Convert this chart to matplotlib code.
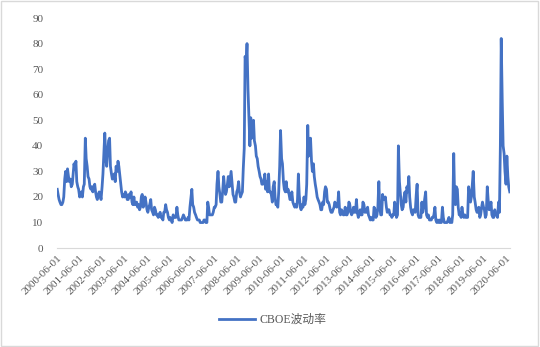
import matplotlib.pyplot as plt
import pandas as pd

# 数据准备(半月采样, 每月1日和15日)
start_date = '2000-06-01'
vix_2000 = [23, 21, 19, 18, 17, 17, 18, 20, 27, 30, 26, 31, 28, 26]
vix_2001 = [27, 24, 25, 29, 33, 31, 34, 26, 24, 23, 20, 21, 22, 20, 24, 25, 43, 35, 32, 28, 27, 24, 23, 24]
vix_2002 = [22, 24, 25, 22, 20, 19, 21, 22, 21, 19, 24, 29, 38, 45, 35, 32, 38, 42, 43, 32, 29, 27, 28, 29]
vix_2003 = [26, 32, 30, 34, 32, 29, 25, 22, 20, 21, 20, 22, 21, 19, 19, 21, 20, 22, 18, 17, 20, 17, 17, 18]
vix_2004 = [16, 17, 15, 16, 20, 21, 16, 18, 20, 18, 15, 14, 16, 17, 19, 15, 14, 13, 16, 15, 13, 13, 12, 13]
vix_2005 = [14, 12, 12, 11, 14, 14, 17, 15, 14, 12, 11, 12, 11, 10, 13, 12, 12, 12, 16, 13, 11, 11, 11, 11]
vix_2006 = [12, 13, 12, 11, 11, 11, 12, 11, 16, 19, 23, 17, 16, 14, 13, 12, 11, 11, 11, 10, 10, 10, 10, 11]
vix_2007 = [11, 10, 10, 18, 16, 13, 13, 13, 13, 14, 16, 16, 17, 25, 30, 24, 21, 18, 18, 22, 28, 24, 21, 22]
vix_2008 = [25, 28, 24, 27, 30, 26, 21, 20, 18, 18, 22, 23, 26, 22, 20, 21, 22, 31, 39, 75, 72, 80, 62, 52]
vix_2009 = [40, 51, 43, 46, 50, 42, 40, 36, 35, 32, 30, 28, 27, 25, 25, 26, 29, 23, 26, 22, 29, 22, 22, 21]
vix_2010 = [18, 24, 26, 20, 17, 17, 16, 22, 32, 46, 35, 33, 26, 23, 22, 26, 22, 23, 21, 19, 19, 22, 18, 17]
vix_2011 = [16, 17, 16, 19, 29, 21, 16, 15, 17, 16, 20, 17, 19, 25, 48, 36, 40, 43, 34, 30, 33, 28, 25, 23]
vix_2012 = [20, 19, 18, 17, 15, 15, 18, 17, 22, 24, 23, 18, 18, 17, 15, 14, 14, 15, 16, 18, 17, 16, 17, 22]
vix_2013 = [14, 13, 15, 14, 13, 13, 16, 13, 13, 14, 18, 17, 14, 13, 14, 16, 14, 14, 19, 14, 12, 13, 15, 13]
vix_2014 = [13, 18, 17, 14, 15, 14, 16, 13, 12, 11, 12, 11, 11, 16, 15, 12, 13, 16, 26, 16, 13, 13, 21, 19]
vix_2015 = [19, 20, 16, 14, 15, 15, 13, 13, 12, 13, 13, 18, 16, 12, 13, 40, 26, 22, 17, 15, 16, 20, 22, 18]
vix_2016 = [24, 22, 28, 20, 16, 14, 13, 15, 15, 14, 21, 25, 13, 12, 12, 12, 18, 14, 16, 19, 22, 13, 12, 13]
vix_2017 = [11, 11, 11, 12, 12, 13, 16, 11, 10, 11, 10, 11, 10, 10, 16, 12, 10, 10, 10, 10, 11, 12, 10, 11]
vix_2018 = [10, 13, 37, 20, 17, 24, 23, 16, 13, 14, 12, 16, 13, 12, 13, 12, 12, 12, 24, 22, 18, 20, 25, 30]
vix_2019 = [20, 18, 15, 14, 14, 16, 12, 13, 16, 18, 16, 15, 12, 13, 24, 19, 15, 16, 18, 13, 12, 12, 15, 13]
vix_2020 = [13, 12, 18, 14, 40, 82, 57, 40, 37, 30, 25, 36, 28, 24, 22]

vix = (vix_2000 + vix_2001 + vix_2002 + vix_2003 + vix_2004 + vix_2005 + vix_2006
       + vix_2007 + vix_2008 + vix_2009 + vix_2010 + vix_2011 + vix_2012 + vix_2013
       + vix_2014 + vix_2015 + vix_2016 + vix_2017 + vix_2018 + vix_2019 + vix_2020)
dates = pd.date_range(start_date, periods=len(vix), freq='SMS')

tick_dates = pd.date_range('2000-06-01', '2020-06-01', freq='12MS')
tick_labels = [d.strftime('%Y-%m-%d') for d in tick_dates]

# 字体
plt.rcParams['font.family'] = ['Liberation Serif', 'Noto Sans CJK SC']

fig = plt.figure(figsize=(5.4, 3.47), dpi=100)
ax = fig.add_axes([0.106, 0.285, 0.838, 0.663])

# 绘制折线图
ax.plot(dates, vix, color='#4472C4', linewidth=2.0, label='CBOE波动率')

ax.set_ylim(0, 90)
ax.set_yticks(range(0, 91, 10))
ax.set_xlim(pd.Timestamp('2000-06-01'), pd.Timestamp('2020-08-01'))
ax.set_xticks(tick_dates)
ax.set_xticklabels(tick_labels, rotation=45, ha='right', rotation_mode='anchor')

for s in ['top', 'right', 'left']:
    ax.spines[s].set_visible(False)
ax.spines['bottom'].set_color('#D9D9D9')
ax.tick_params(axis='both', length=0, colors='#595959', labelsize=8)
ax.tick_params(axis='y', pad=10)
ax.tick_params(axis='x', pad=4)

# 图例
fig.legend(loc='lower center', bbox_to_anchor=(0.505, 0.03), frameon=False,
           fontsize=8.5, handlelength=3.0, handletextpad=0.4, labelcolor='#595959')

# 外框
fig.patches.append(plt.Rectangle((0.002, 0.003), 0.995, 0.994, transform=fig.transFigure,
                                 fill=False, edgecolor='#D9D9D9', linewidth=1))

plt.savefig('out.png', dpi=100)
